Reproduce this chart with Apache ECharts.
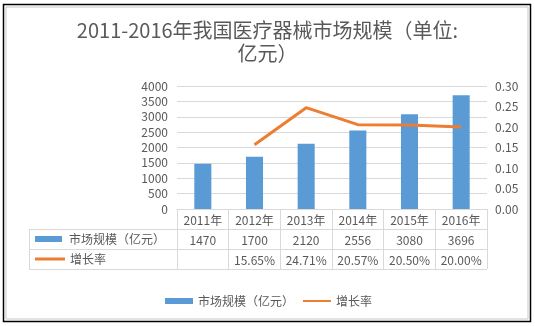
<!DOCTYPE html>
<html><head><meta charset="utf-8">
<script src="https://cdn.jsdelivr.net/npm/echarts@6/dist/echarts.min.js"></script>
<style>html,body{margin:0;padding:0;background:#fff}#c{width:535px;height:326px}</style>
</head><body><div id="c"></div>
<script>
const years = ['2011年','2012年','2013年','2014年','2015年','2016年'];
const marketSize = [1470, 1700, 2120, 2556, 3080, 3696];
const growthRate = [null, 0.1565, 0.2471, 0.2057, 0.2050, 0.2000];
const sizeName = '市场规模（亿元）';
const rateName = '增长率';
const titleText = '2011-2016年我国医疗器械市场规模（单位:\n亿元）';

const FONT = '"Noto Sans CJK SC", "Noto Sans", sans-serif';
const TXT = '#595959';
const GRIDC = '#d9d9d9';
const BLUE = '#5B9BD5';
const ORANGE = '#ED7D31';

const gL = 177, gR = 487, gT = 86, gB = 209, rowH = 20, keyL = 29;

const chart = echarts.init(document.getElementById('c'));
const fmtRate = v => (v == null ? '' : (v * 100).toFixed(2) + '%');

const xBase = {
  type: 'category', data: years, position: 'bottom', gridIndex: 0,
  axisTick: {show: false}, axisLine: {show: false}, splitLine: {show: false}
};

chart.setOption({
  animation: false,
  textStyle: {fontFamily: FONT, color: TXT},
  title: {
    text: titleText, left: 'center', top: 14,
    textStyle: {fontFamily: FONT, fontSize: 20, fontWeight: 'normal', color: TXT, lineHeight: 23}
  },
  legend: {
    left: 160, top: 290, itemWidth: 28, itemHeight: 6, itemGap: 8,
    textStyle: {fontFamily: FONT, fontSize: 12, color: TXT},
    data: [{name: sizeName, icon: 'rect'}, {name: rateName, itemStyle: {opacity: 0}}]
  },
  grid: {left: gL, right: 535 - gR, top: gT, bottom: 326 - gB, containLabel: false},
  xAxis: [
    Object.assign({}, xBase, {
      axisLine: {show: true, lineStyle: {color: GRIDC, width: 1}},
      axisTick: {show: true, length: rowH * 3, interval: 0, lineStyle: {color: GRIDC}},
      axisLabel: {color: TXT, fontSize: 12, margin: 5, interval: 0, fontFamily: FONT}
    }),
    Object.assign({}, xBase, {
      offset: rowH,
      axisLabel: {color: TXT, fontSize: 12, margin: 5, interval: 0, fontFamily: FONT,
        formatter: (v, i) => String(marketSize[i])}
    }),
    Object.assign({}, xBase, {
      offset: rowH * 2,
      axisLabel: {color: TXT, fontSize: 12, margin: 5, interval: 0, fontFamily: FONT,
        formatter: (v, i) => fmtRate(growthRate[i])}
    })
  ],
  yAxis: [
    {type: 'value', min: 0, max: 4000, interval: 500, position: 'left',
     axisLine: {show: false}, axisTick: {show: false},
     axisLabel: {color: TXT, fontSize: 12, margin: 9, fontFamily: FONT, formatter: v => String(v)},
     splitLine: {lineStyle: {color: GRIDC, width: 1}}},
    {type: 'value', min: 0, max: 0.30, interval: 0.05, position: 'right',
     axisLine: {show: false}, axisTick: {show: false},
     axisLabel: {color: TXT, fontSize: 12, margin: 8, fontFamily: FONT, formatter: v => v.toFixed(2)},
     splitLine: {show: false}}
  ],
  series: [
    {name: sizeName, type: 'bar', xAxisIndex: 0, yAxisIndex: 0, data: marketSize,
     barWidth: '33%', itemStyle: {color: BLUE}},
    {name: rateName, type: 'line', xAxisIndex: 0, yAxisIndex: 1, data: growthRate,
     symbol: 'none', lineStyle: {color: ORANGE, width: 3}, itemStyle: {color: ORANGE}}
  ],
  graphic: [
    {type: 'rect', shape: {x: 3.5, y: 4.5, width: 527, height: 317}, style: {fill: null, stroke: '#000', lineWidth: 1.5}, silent: true},
    {type: 'rect', shape: {x: 6, y: 7, width: 522, height: 312}, style: {fill: null, stroke: '#c8c8c8', lineWidth: 1}, silent: true},
    {type: 'line', shape: {x1: keyL, y1: gB + rowH + 0.5, x2: gR, y2: gB + rowH + 0.5}, style: {stroke: GRIDC, lineWidth: 1}},
    {type: 'line', shape: {x1: keyL, y1: gB + rowH * 2 + 0.5, x2: gR, y2: gB + rowH * 2 + 0.5}, style: {stroke: GRIDC, lineWidth: 1}},
    {type: 'line', shape: {x1: keyL, y1: gB + rowH * 3 + 0.5, x2: gR, y2: gB + rowH * 3 + 0.5}, style: {stroke: GRIDC, lineWidth: 1}},
    {type: 'line', shape: {x1: keyL + 0.5, y1: gB + rowH, x2: keyL + 0.5, y2: gB + rowH * 3}, style: {stroke: GRIDC, lineWidth: 1}},
    {type: 'rect', shape: {x: 35, y: gB + rowH * 1.5 - 3, width: 27, height: 6}, style: {fill: BLUE}},
    {type: 'text', x: 69, y: gB + rowH * 1.5, style: {text: sizeName, fill: TXT, font: '12px ' + FONT, verticalAlign: 'middle'}},
    {type: 'line', shape: {x1: 35, y1: gB + rowH * 2.5, x2: 65, y2: gB + rowH * 2.5}, style: {stroke: ORANGE, lineWidth: 3}},
    {type: 'text', x: 70, y: gB + rowH * 2.5, style: {text: rateName, fill: TXT, font: '12px ' + FONT, verticalAlign: 'middle'}}
  ]
});
</script></body></html>
